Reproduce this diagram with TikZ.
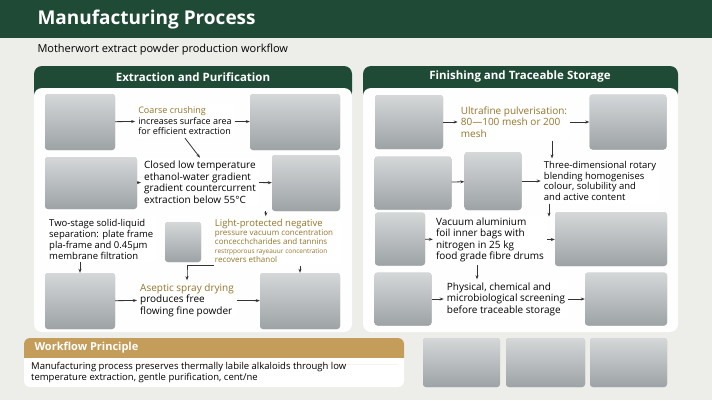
\documentclass[tikz,border=0pt]{standalone}
\usepackage{fontspec}
\setmainfont{Open Sans}
\usetikzlibrary{positioning, calc}
\usetikzlibrary{arrows.meta}
\definecolor{hdgreen}{HTML}{1F4A36}
\definecolor{bggray}{HTML}{EDEDEA}
\definecolor{tan}{HTML}{C49D5A}
\definecolor{gold}{HTML}{94742A}
\definecolor{photo}{HTML}{B9BDBF}
\begin{document}
\begin{tikzpicture}[x=1pt,y=-1pt,->,>={Stealth[length=4pt]},draw=black!80]
	\tikzstyle{photo}=[draw=none,fill=photo,rounded corners=3pt,inner sep=0pt,top color=photo!60,bottom color=photo!140]
	\tikzstyle{tbox}=[fill=white,rounded corners=4pt,align=left,inner sep=3pt,font=\fontsize{10}{11.5}\selectfont]
	\tikzstyle{hl}=[tbox,text=gold]
	\tikzstyle{panel}=[fill=white!97!bggray,rounded corners=8pt,draw=none]
	\tikzstyle{ptitle}=[text=white,font=\bfseries\fontsize{11.5}{13}\selectfont]
	\tikzstyle{flow}=[->,thick,draw=black!80]
	\newcommand{\ph}[5]{\node[photo,minimum width=#4pt,minimum height=#5pt] (#1) at (#2,#3) {};}

	% background and header
	\fill[bggray] (0,0) rectangle (712,400);
	\useasboundingbox (0,0) rectangle (712,400);
	\fill[hdgreen] (0,0) rectangle (712,38);
	\node[text=white,anchor=west,font=\bfseries\fontsize{19}{22}\selectfont] (title) at (34,20) {Manufacturing Process};
	\node[anchor=west,font=\fontsize{11}{13}\selectfont] (subtitle) at (34,50) {Motherwort extract powder production workflow};

	% panels
	\fill[hdgreen,rounded corners=8pt] (34,66) rectangle (352,100);
	\fill[panel] (34,88) rectangle (352,332);
	\node[ptitle] (lefttitle) at (193,77) {Extraction and Purification};
	\fill[hdgreen,rounded corners=8pt] (363,66) rectangle (678,100);
	\fill[panel] (363,88) rectangle (678,332);
	\node[ptitle] (righttitle) at (520,77) {Finishing and Traceable Storage};

	% extraction row 1
	\ph{e1}{80}{122}{70}{56}
	\node[tbox] (e2) at (185,121) {\textcolor{gold}{\fontsize{9}{10}\selectfont Coarse crushing}\\[-1pt]{\fontsize{9}{10}\selectfont increases surface area}\\[-1pt]{\fontsize{9}{10}\selectfont for efficient extraction}};
	\ph{e3}{295}{122}{90}{56}
	% extraction row 2
	\ph{e4}{91}{183}{92}{52}
	\node[tbox] (e5) at (200,182) {Closed low temperature\\ethanol-water gradient\\gradient countercurrent\\extraction below 55°C};
	\ph{e6}{306}{183}{68}{56}
	% extraction row 3
	\node[tbox,minimum height=44pt,anchor=west,font=\fontsize{9.5}{11}\selectfont] (e7) at (46,239) {Two-stage solid-liquid\\separation: plate frame\\pla-frame and 0.45µm\\membrane filtration};
	\ph{e8}{183}{242}{36}{40}
	\node[hl,minimum width=134pt,minimum height=48pt,font=\fontsize{8}{9}\selectfont] (e9) at (274,241) {{\fontsize{9.5}{10.5}\selectfont Light-protected negative}\\pressure vacuum concentration\\concecchcharides and tannins\\{\fontsize{6.5}{7}\selectfont restrpporous rayeauur concentration}\\recovers ethanol};
	% extraction row 4
	\ph{e10}{80}{301}{70}{56}
	\node[hl,font=\fontsize{10}{11.5}\selectfont] (e11) at (187,300) {Aseptic spray drying\\\textcolor{black}{produces free}\\\textcolor{black}{flowing fine powder}};
	\ph{e12}{300}{301}{80}{56}

	\draw[flow] (e1) -- (e2);
	\draw[flow] (e2) -- (e3);
	\draw[flow] (e2.south) -- (e5.north);
	\draw[flow] (e4) -- (e5);
	\draw[flow] (e5) -- (e6);
	\draw[flow] (e6.south west) ++(-6,0) coordinate (c1) -- (c1 |- e9.north);
	\draw[flow] (e7.south -| e10) -- (e10.north);
	\draw[flow] (e9.south) ++(-60,0) coordinate (c2) -- ++(-27,0) |- ++(0,8) coordinate (c3) -- (c3 |- e11.north);
	\draw[flow] (e9.south -| e12) -- (e12.north);
	\draw[flow] (e10) -- (e11);
	\draw[flow] (e11) -- (e12);

	% finishing row 1
	\ph{f1}{409}{122}{68}{54}
	\node[hl] (f2) at (514,122) {Ultrafine pulverisation:\\80—100 mesh or 200\\mesh};
	\ph{f3}{628}{122}{77}{55}
	% finishing row 2
	\ph{f4}{413}{183}{77}{53}
	\ph{f5}{493}{181}{57}{58}
	\node[tbox,font=\fontsize{9.5}{10.5}\selectfont] (f6) at (600,181) {Three-dimensional rotary\\blending homogenises\\colour, solubility and\\and active content};
	% finishing row 3
	\ph{f7}{400}{239}{50}{53}
	\node[tbox] (f8) at (490,240) {Vacuum aluminium\\foil inner bags with\\nitrogen in 25 kg\\food grade fibre drums};
	\ph{f9}{611}{239}{112}{54}
	% finishing row 4
	\ph{f10}{403}{299}{57}{53}
	\node[tbox] (f11) at (506,299) {Physical, chemical and\\microbiological screening\\before traceable storage};
	\ph{f12}{626}{299}{82}{53}

	\draw[flow] (f1) -- (f2);
	\draw[flow] (f2) -- (f3);
	\draw[flow] (f2.south) ++(38,0) coordinate (c4) -- (c4 |- f6.north);
	\draw[flow] (f4) -- (f5);
	\draw[flow] (f5) -- (f6);
	\draw[flow] (f6.south) ++(-51,0) coordinate (c5) -- ++(0,13);
	\draw[flow] (f7) -- (f8);
	\draw[flow] (f8) -- (f9);
	\draw[flow] (f8.south) ++(-13,0) coordinate (c6) -- (c6 |- f11.north);
	\draw[flow] (f10) -- (f11);
	\draw[flow] (f11) -- (f12);

	% workflow principle
	\fill[white,rounded corners=6pt] (24,338) rectangle (404,387);
	\fill[tan,rounded corners=6pt] (24,338) rectangle (404,364);
	\fill[white] (24,358) rectangle (404,364);
	\node[anchor=west,text=white,font=\bfseries\fontsize{11}{13}\selectfont] (wtitle) at (31,348) {Workflow Principle};
	\node[anchor=north west,align=left,inner sep=0pt,font=\fontsize{9.5}{11.5}\selectfont] (wtext) at (31,362) {Manufacturing process preserves thermally labile alkaloids through low\\temperature extraction, gentle purification, cent/ne};
	\ph{s1}{461.5}{362.5}{77}{49}
	\ph{s2}{545.5}{362.5}{79}{49}
	\ph{s3}{628.5}{362.5}{77}{49}
\end{tikzpicture}
\end{document}
